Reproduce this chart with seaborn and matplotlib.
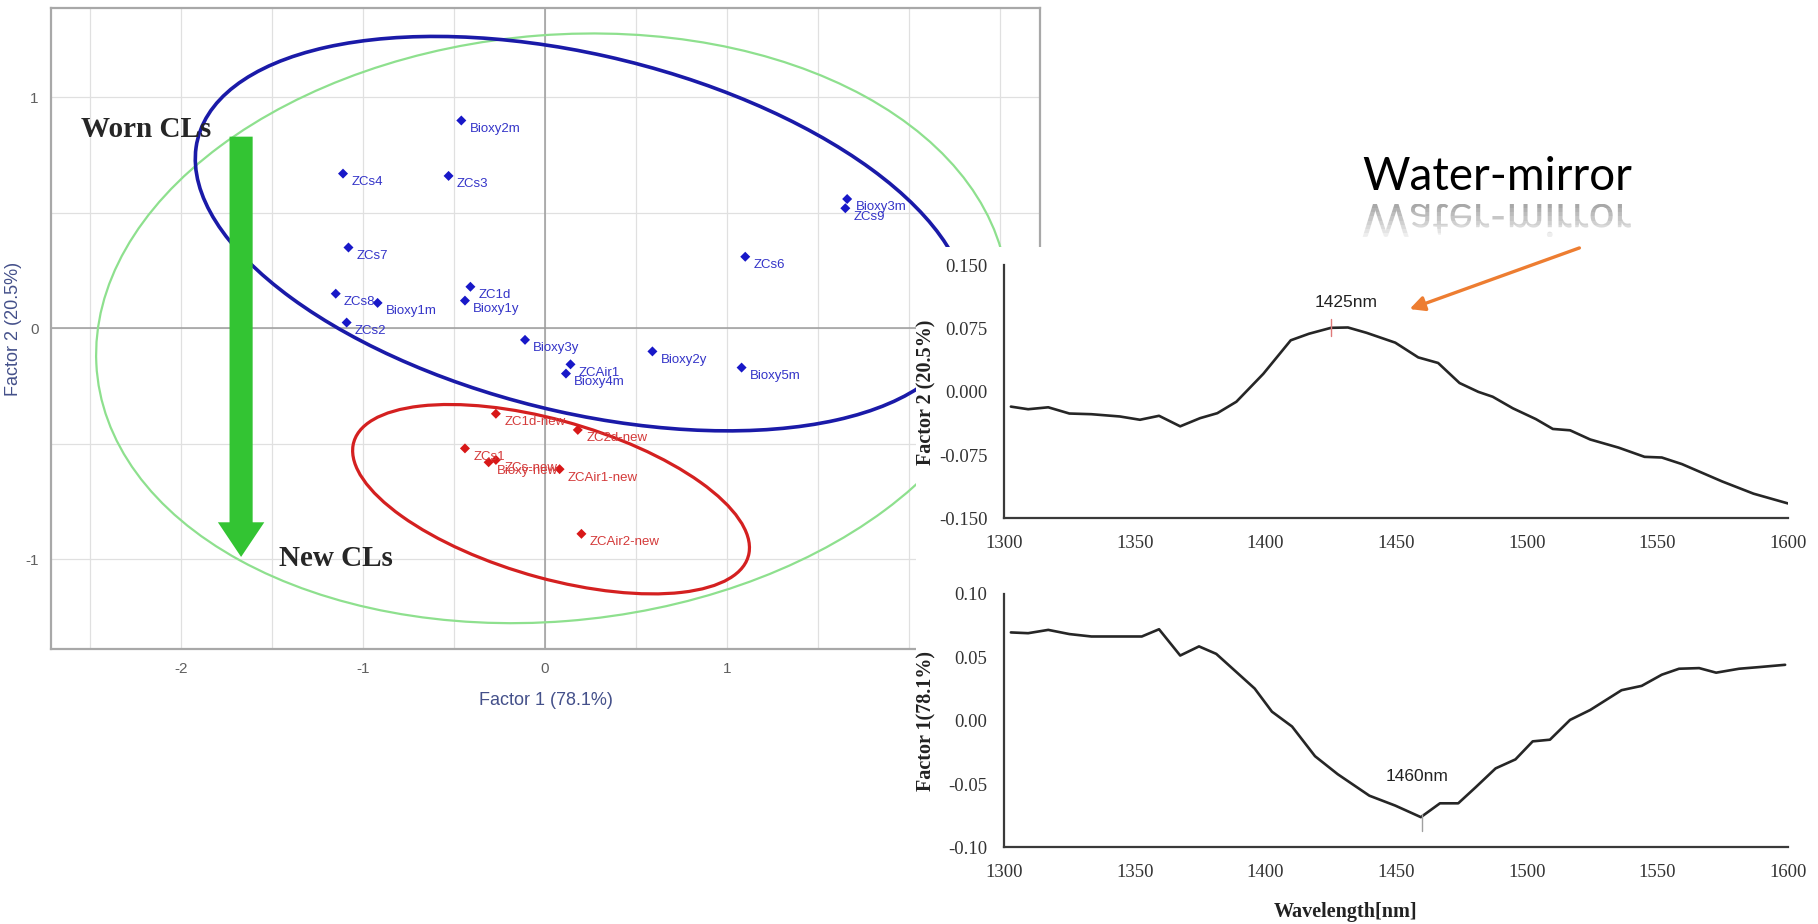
import numpy as np
import pandas as pd
import matplotlib
matplotlib.use("Agg")
import matplotlib.pyplot as plt
import seaborn as sns
from matplotlib.patches import Ellipse, Rectangle, FancyArrow, PathPatch
from matplotlib.textpath import TextPath
from matplotlib.font_manager import FontProperties
from matplotlib.transforms import Affine2D, Bbox
from matplotlib.ticker import MultipleLocator, FixedLocator, FormatStrFormatter

# PCA scores - worn lenses
worn_names = ["Bioxy2m", "ZCs4", "ZCs3", "ZCs7", "ZCs8", "Bioxy1m", "ZCs2", "ZC1d", "Bioxy1y",
              "Bioxy3y", "ZCAir1", "Bioxy4m", "Bioxy2y", "Bioxy5m", "ZCs6", "Bioxy3m", "ZCs9"]
worn_f1 = [-0.46, -1.11, -0.53, -1.08, -1.15, -0.92, -1.09, -0.41, -0.44,
           -0.11, 0.14, 0.115, 0.59, 1.08, 1.10, 1.66, 1.65]
worn_f2 = [0.90, 0.67, 0.66, 0.35, 0.15, 0.11, 0.025, 0.18, 0.12,
           -0.05, -0.156, -0.196, -0.10, -0.17, 0.31, 0.56, 0.52]

# PCA scores - new lenses
new_names = ["ZC1d-new", "ZC2d-new", "ZCs1", "Bioxy-new", "ZCs-new", "ZCAir1-new", "ZCAir2-new"]
new_f1 = [-0.27, 0.18, -0.44, -0.31, -0.27, 0.08, 0.20]
new_f2 = [-0.37, -0.44, -0.52, -0.58, -0.57, -0.61, -0.89]

# confidence ellipses (center x, center y, width, height, angle)
ell_all = (0.04, 0.0, 5.02, 2.54, 3.5)
ell_worn = (0.20, 0.41, 4.3, 1.56, -10)
ell_new = (0.033, -0.74, 2.225, 0.69, -12.1)

# loadings
wl_f2 = [1302.6, 1309.2, 1316.9, 1325.0, 1333.4, 1344.3, 1352.0, 1359.3, 1367.4, 1375.0, 1381.6, 1388.9,
         1399.2, 1409.7, 1416.7, 1425.1, 1431.6, 1438.7, 1449.7, 1458.5, 1466.1, 1474.3, 1481.5, 1487.0,
         1494.7, 1503.5, 1510.0, 1516.6, 1524.3, 1535.2, 1545.1, 1551.7, 1559.4, 1574.8, 1586.8, 1600.0]
load_f2 = [-0.0175, -0.0206, -0.0183, -0.0257, -0.0265, -0.0292, -0.0331, -0.0284, -0.0409, -0.0312, -0.0253, -0.0117,
           0.0214, 0.0612, 0.0690, 0.0760, 0.0764, 0.0701, 0.0584, 0.0409, 0.0343, 0.0105, 0.0, -0.0058,
           -0.0195, -0.0323, -0.0440, -0.0456, -0.0565, -0.0662, -0.0771, -0.0779, -0.0857, -0.1063, -0.1208, -0.1324]
wl_f1 = [1302.6, 1309.2, 1316.9, 1325.0, 1333.4, 1344.3, 1352.7, 1359.3, 1367.4, 1374.6, 1381.2, 1388.2, 1395.9,
         1402.5, 1410.2, 1419.0, 1427.7, 1439.8, 1449.7, 1459.5, 1466.8, 1473.8, 1480.4, 1488.1, 1495.7, 1502.3,
         1508.9, 1516.6, 1524.3, 1536.3, 1544.0, 1551.7, 1558.3, 1566.0, 1572.5, 1581.3, 1589.0, 1598.9]
load_f1 = [0.0694, 0.0688, 0.0714, 0.0681, 0.0662, 0.0662, 0.0662, 0.0719, 0.0512, 0.0584, 0.0525, 0.0395, 0.0252,
           0.0070, -0.0047, -0.0281, -0.0423, -0.0592, -0.0670, -0.0761, -0.0652, -0.0652, -0.0527, -0.0377, -0.0306,
           -0.0164, -0.0151, 0.0005, 0.0083, 0.0239, 0.0273, 0.0361, 0.0408, 0.0413, 0.0377, 0.0408, 0.0421, 0.0439]
peak_f2 = 1425
peak_f1 = 1460

sns.set_style("white")
plt.rcParams['font.family'] = ['Liberation Sans', 'DejaVu Sans']
plt.rcParams['axes.unicode_minus'] = False

fig = plt.figure(figsize=(18.18, 9.24), dpi=100)

# ---------------- score plot ----------------
ax = fig.add_axes([0.0281, 0.2973, 0.544, 0.694])
ax.set_xlim(-2.714, 2.72)
ax.set_ylim(-1.39, 1.387)

df = pd.DataFrame({
    'f1': worn_f1 + new_f1,
    'f2': worn_f2 + new_f2,
    'name': worn_names + new_names,
    'group': ['worn'] * len(worn_names) + ['new'] * len(new_names),
})
pal = {'worn': '#1818c8', 'new': '#d81818'}

ax.xaxis.set_major_locator(FixedLocator([-2, -1, 0, 1]))
ax.xaxis.set_minor_locator(MultipleLocator(0.5))
ax.yaxis.set_major_locator(FixedLocator([-1, 0, 1]))
ax.yaxis.set_minor_locator(MultipleLocator(0.5))
ax.grid(True, which='both', color='#e0e0e0', lw=0.9)
ax.axhline(0, color='#9c9c9c', lw=1.1, zorder=1)
ax.axvline(0, color='#9c9c9c', lw=1.1, zorder=1)
for s in ax.spines.values():
    s.set_color('#a8a8a8')
    s.set_linewidth(1.6)
ax.tick_params(which='both', direction='out', length=4, color='#a8a8a8', width=1)
ax.tick_params(which='major', labelsize=11, labelcolor='#606060', pad=5)

for (cx, cy, w, h, ang), col, lw in [(ell_all, '#8ee08e', 1.6), (ell_worn, '#1a1aa8', 2.6), (ell_new, '#d42020', 2.3)]:
    ax.add_patch(Ellipse((cx, cy), w, h, angle=ang, fill=False, edgecolor=col, lw=lw, zorder=2))

sns.scatterplot(data=df, x='f1', y='f2', hue='group', palette=pal, marker='D', s=26,
                edgecolor='none', legend=False, ax=ax, zorder=3)
for _, r in df.iterrows():
    ax.annotate(r['name'], (r['f1'], r['f2']), xytext=(6, -6), textcoords='offset points',
                fontsize=9.5, color='#3434c8' if r['group'] == 'worn' else '#d43a3a',
                va='center', ha='left', zorder=3)

ax.set_xlabel('Factor 1 (78.1%)', fontsize=13, color='#44508a')
ax.set_ylabel('Factor 2 (20.5%)', fontsize=13, color='#44508a')
ax.xaxis.set_label_coords(0.5, -0.066)
ax.yaxis.set_label_coords(-0.029, 0.5)

ax.add_patch(FancyArrow(-1.67, 0.83, 0, -1.82, width=0.127, head_width=0.255, head_length=0.15,
                        length_includes_head=True, color='#33c433', lw=0, zorder=4))
ax.text(-2.55, 0.86, 'Worn CLs', family=['Liberation Serif'], fontweight='bold', fontsize=21,
        va='center', ha='left', zorder=5)
ax.text(-1.46, -0.995, 'New CLs', family=['Liberation Serif'], fontweight='bold', fontsize=21,
        va='center', ha='left', zorder=5)

# white panel behind the loading plots
fig.patches.append(Rectangle((916 / 1818, 0), 1, (924 - 247) / 924, transform=fig.transFigure,
                             facecolor='white', edgecolor='none', zorder=1))

# ---------------- loading plots ----------------
serif = ['Liberation Serif', 'DejaVu Serif']


def loading_axes(rect, wl, vals, ylim, ystep, fmt, ylabel):
    a = fig.add_axes(rect)
    a.set_zorder(2)
    sns.lineplot(x=wl, y=vals, ax=a, color='#262626', lw=1.9)
    a.set_xlim(1300, 1600)
    a.set_ylim(*ylim)
    a.xaxis.set_major_locator(MultipleLocator(50))
    a.xaxis.set_minor_locator(MultipleLocator(25))
    a.yaxis.set_major_locator(MultipleLocator(ystep))
    a.yaxis.set_minor_locator(MultipleLocator(ystep / 2))
    a.yaxis.set_major_formatter(FormatStrFormatter(fmt))
    sns.despine(ax=a)
    for s in ['left', 'bottom']:
        a.spines[s].set_color('#3a3a3a')
        a.spines[s].set_linewidth(1.6)
    a.tick_params(which='both', direction='out', color='#3a3a3a', width=1.3)
    a.tick_params(which='major', length=6, pad=6)
    a.tick_params(which='minor', length=4)
    for lab in a.get_xticklabels() + a.get_yticklabels():
        lab.set_family(serif)
        lab.set_fontsize(13.5)
        lab.set_color('#333333')
    a.set_ylabel(ylabel, family=serif, fontweight='bold', fontsize=14.5, color='#222222')
    a.yaxis.set_label_coords(-0.086, 0.5)
    a.set_xlabel('')
    return a


ax2 = loading_axes([0.5523, 0.4391, 0.4312, 0.2736], wl_f2, load_f2, (-0.15, 0.15), 0.075, '%.3f',
                   'Factor 2 (20.5%)')
ax3 = loading_axes([0.5523, 0.0828, 0.4312, 0.2748], wl_f1, load_f1, (-0.10, 0.10), 0.05, '%.2f',
                   'Factor 1(78.1%)')
ax3.set_xlabel('Wavelength[nm]', family=serif, fontweight='bold', fontsize=14.5, color='#222222')
ax3.xaxis.set_label_coords(0.435, -0.215)

v2 = np.interp(peak_f2, wl_f2, load_f2)
ax2.plot([peak_f2, peak_f2], [v2 - 0.01, v2 + 0.01], color='#e07a7a', lw=1)
ax2.text(peak_f2 + 6, v2 + 0.03, f'{peak_f2}nm', fontsize=12.5, ha='center', va='center', color='#222222')
v1 = np.interp(peak_f1, wl_f1, load_f1)
ax3.plot([peak_f1, peak_f1], [v1 - 0.012, v1 + 0.002], color='#a0a0a0', lw=1)
ax3.text(peak_f1 - 2, v1 + 0.031, f'{peak_f1}nm', fontsize=12.5, ha='center', va='center', color='#222222')

# ---------------- title with mirror ----------------
tsize = 33
tfont = FontProperties(family='Lato', size=tsize)
fig.text(1362 / 1818, 1 - 190 / 924, 'Water-mirror', fontproperties=tfont, color='black',
         ha='left', va='baseline')
tp = TextPath((0, 0), 'Water-mirror', prop=FontProperties(family='Lato'), size=tsize * 100 / 72)
base_y = 924 - 204
tr = Affine2D().scale(1, -1).translate(1362, base_y)
nstrip = 8
for i in range(nstrip):
    y_hi = base_y - i * 33 / nstrip
    y_lo = base_y - (i + 1) * 33 / nstrip
    p = PathPatch(tp, transform=tr, facecolor='#7a7a7a', edgecolor='none', alpha=0.6 * (1 - i / nstrip) + 0.05)
    fig.add_artist(p)
    p.set_clip_box(Bbox.from_extents(1300, y_lo, 1700, y_hi))

ax2.annotate('', xy=(1407 / 1818, 1 - 310 / 924), xycoords='figure fraction',
             xytext=(1582 / 1818, 1 - 247 / 924), textcoords='figure fraction',
             arrowprops=dict(arrowstyle='-|>', color='#ed7d31', lw=2.4, mutation_scale=22))

fig.savefig('out.png', dpi=100)
